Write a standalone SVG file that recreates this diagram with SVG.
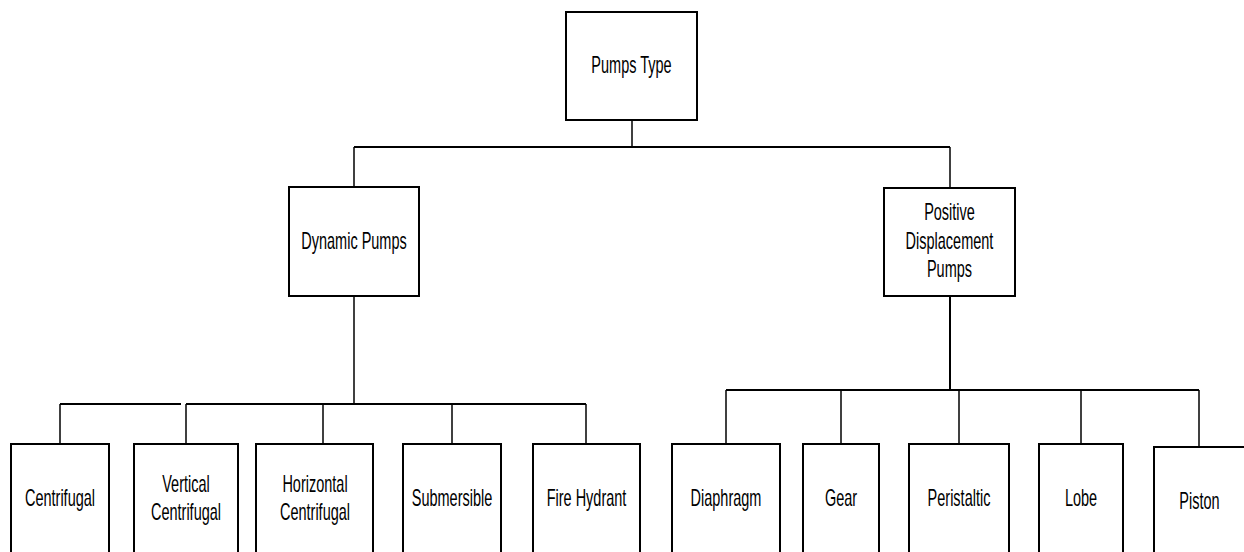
<svg xmlns="http://www.w3.org/2000/svg" width="1244" height="552" viewBox="0 0 1244 552">
<style>
.box{fill:#fff;stroke:#000;stroke-width:2}
.ln{fill:none;stroke:#000;stroke-width:2}
.st{fill:none;stroke:#000;stroke-width:1.5}
text{font-family:"Liberation Sans",Arial,sans-serif;font-size:23px;fill:#000;text-anchor:middle}
</style>
<rect width="1244" height="552" fill="#fff"/>
<g id="connectors">
<line class="st" x1="632" y1="120" x2="632" y2="147"/>
<line class="ln" x1="354" y1="147" x2="950" y2="147"/>
<line class="st" x1="354" y1="147" x2="354" y2="187"/>
<line class="st" x1="950" y1="147" x2="950" y2="188"/>
<line class="st" x1="354" y1="296" x2="354" y2="404"/>
<line class="ln" x1="60" y1="404" x2="181" y2="404"/>
<line class="ln" x1="186" y1="404" x2="586" y2="404"/>
<line class="st" x1="60" y1="404" x2="60" y2="444"/>
<line class="st" x1="186" y1="404" x2="186" y2="444"/>
<line class="st" x1="323" y1="404" x2="323" y2="444"/>
<line class="st" x1="452" y1="404" x2="452" y2="444"/>
<line class="st" x1="586" y1="404" x2="586" y2="444"/>
<line class="ln" x1="950" y1="296" x2="950" y2="390"/>
<line class="ln" x1="726" y1="390" x2="1199" y2="390"/>
<line class="st" x1="726" y1="390" x2="726" y2="444"/>
<line class="st" x1="841" y1="390" x2="841" y2="444"/>
<line class="st" x1="959" y1="390" x2="959" y2="444"/>
<line class="st" x1="1081" y1="390" x2="1081" y2="444"/>
<line class="st" x1="1199" y1="390" x2="1199" y2="447"/>
</g>
<g id="pumps-type"><rect class="box" x="566" y="12" width="131" height="108"/><text transform="translate(631.5,73) scale(0.63,1)">Pumps Type</text></g>
<g id="dynamic-pumps"><rect class="box" x="289" y="187" width="130" height="109"/><text transform="translate(354,249) scale(0.63,1)">Dynamic Pumps</text></g>
<g id="positive-displacement"><rect class="box" x="884" y="188" width="131" height="108"/><text transform="translate(949.5,220) scale(0.63,1)">Positive</text><text transform="translate(949.5,249) scale(0.63,1)">Displacement</text><text transform="translate(949.5,277) scale(0.63,1)">Pumps</text></g>
<g id="centrifugal"><rect class="box" x="11" y="444" width="98" height="120"/><text transform="translate(60,506) scale(0.63,1)">Centrifugal</text></g>
<g id="vertical-centrifugal"><rect class="box" x="134" y="444" width="104" height="120"/><text transform="translate(186,492) scale(0.63,1)">Vertical</text><text transform="translate(186,520) scale(0.63,1)">Centrifugal</text></g>
<g id="horizontal-centrifugal"><rect class="box" x="256" y="444" width="117" height="120"/><text transform="translate(315,492) scale(0.63,1)">Horizontal</text><text transform="translate(315,520) scale(0.63,1)">Centrifugal</text></g>
<g id="submersible"><rect class="box" x="403" y="444" width="98" height="120"/><text transform="translate(452,506) scale(0.63,1)">Submersible</text></g>
<g id="fire-hydrant"><rect class="box" x="533" y="444" width="107" height="120"/><text transform="translate(586.5,506) scale(0.63,1)">Fire Hydrant</text></g>
<g id="diaphragm"><rect class="box" x="672" y="444" width="108" height="120"/><text transform="translate(726,506) scale(0.63,1)">Diaphragm</text></g>
<g id="gear"><rect class="box" x="803" y="444" width="76" height="120"/><text transform="translate(841,506) scale(0.63,1)">Gear</text></g>
<g id="peristaltic"><rect class="box" x="909" y="444" width="100" height="120"/><text transform="translate(959,506) scale(0.63,1)">Peristaltic</text></g>
<g id="lobe"><rect class="box" x="1039" y="444" width="84" height="120"/><text transform="translate(1081,506) scale(0.63,1)">Lobe</text></g>
<g id="piston"><rect class="box" x="1154" y="447" width="92" height="120"/><text transform="translate(1199.5,509) scale(0.63,1)">Piston</text></g>
</svg>
